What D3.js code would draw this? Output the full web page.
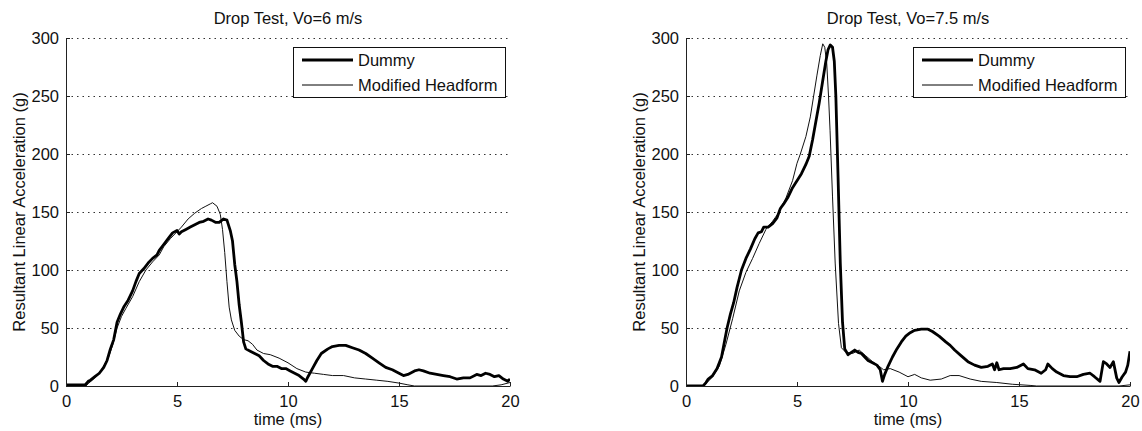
<!DOCTYPE html>
<html>
<head>
<meta charset="utf-8">
<script src="https://cdn.jsdelivr.net/npm/d3@7"></script>
<style>
  body { margin: 0; background: #fff; }
  text { font-family: "Liberation Sans", Arial, sans-serif; fill: #111; }
</style>
</head>
<body>
<div id="chart"></div>
<script>
// tick labels and titles
var xTicks = [0, 5, 10, 15, 20];
var yTicks = [0, 50, 100, 150, 200, 250, 300];
var seriesNames = ["Dummy", "Modified Headform"];
var titles = ["Drop Test, Vo=6 m/s", "Drop Test, Vo=7.5 m/s"];

// [time (ms), acceleration (g)], Vo = 6 m/s
var dummy6 = [[0,1],[0.86,1],[1.0,4],[1.1,5],[1.3,8],[1.5,11],[1.7,16],[1.85,22],[2.0,32],[2.15,40],
  [2.3,55],[2.45,62],[2.6,68],[2.8,74],[3.0,82],[3.15,90],[3.3,97],[3.5,101],[3.7,106],[3.9,110],
  [4.1,113],[4.2,117],[4.4,122],[4.6,127],[4.8,132],[5.0,134],[5.1,131],[5.2,133],[5.4,135],[5.6,137],
  [5.8,139],[6.0,141],[6.2,142],[6.4,144],[6.55,143],[6.75,141],[6.9,141],[7.1,144],[7.25,143],[7.4,134],
  [7.5,125],[7.6,105],[7.7,90],[7.8,70],[7.9,55],[8.0,38],[8.1,32],[8.3,30],[8.5,28],[8.7,26],
  [8.9,22],[9.1,19],[9.3,17],[9.5,17],[9.7,15],[9.9,15],[10.1,13],[10.3,11],[10.5,9],[10.7,6],
  [10.8,4],[10.9,8],[11.1,15],[11.3,22],[11.5,28],[11.8,32],[12.0,34],[12.3,35],[12.6,35],[12.9,33],
  [13.2,31],[13.5,28],[13.8,24],[14.1,20],[14.4,16],[14.7,14],[15.0,11],[15.2,9],[15.4,10],[15.7,13],
  [15.9,14],[16.1,13],[16.4,11],[16.7,10],[17.0,9],[17.3,8],[17.6,6],[17.9,7],[18.2,7],[18.5,10],
  [18.7,9],[18.9,11],[19.1,10],[19.3,8],[19.5,9],[19.7,6],[19.9,4],[20,6]];

var headform6 = [[0,0],[0.9,0],[1.0,2],[1.3,7],[1.6,14],[1.9,24],[2.1,35],[2.3,50],[2.5,60],[2.7,67],
  [3.0,77],[3.3,90],[3.6,100],[3.9,107],[4.2,113],[4.4,120],[4.7,127],[5.0,133],[5.2,137],[5.5,144],
  [5.8,149],[6.1,153],[6.3,155],[6.5,157],[6.6,158],[6.8,155],[6.95,148],[7.05,135],[7.15,115],[7.25,90],
  [7.35,68],[7.45,57],[7.6,48],[7.8,43],[8.0,40],[8.2,39],[8.4,36],[8.6,31],[8.9,28],[9.2,27],
  [9.6,24],[10.0,20],[10.4,15],[10.8,12],[11.2,11],[11.6,10],[12.0,9],[12.5,9],[13.0,7],[13.5,6],
  [14.0,5],[14.5,4],[15.0,2.5],[15.4,1],[15.7,0],[19.2,0],[19.6,1],[20,3]];

// Vo = 7.5 m/s
var dummy75 = [[0,0],[0.77,0],[0.9,3],[1.0,6],[1.2,9],[1.4,15],[1.6,25],[1.75,40],[1.85,50],[2.0,62],
  [2.15,72],[2.3,85],[2.5,100],[2.7,110],[2.9,118],[3.1,127],[3.25,132],[3.4,133],[3.5,137],[3.7,137],
  [3.9,140],[4.1,145],[4.25,153],[4.4,157],[4.6,163],[4.8,171],[5.0,177],[5.2,183],[5.4,191],[5.55,198],
  [5.7,212],[5.85,228],[6.0,244],[6.15,262],[6.3,280],[6.4,290],[6.5,294],[6.6,292],[6.68,280],[6.75,250],
  [6.85,180],[6.95,106],[7.05,55],[7.15,32],[7.3,27],[7.45,29],[7.6,31],[7.75,29],[7.9,28],[8.05,25],
  [8.2,22],[8.4,20],[8.6,18],[8.75,14],[8.85,4],[8.95,10],[9.1,17],[9.3,25],[9.5,32],[9.7,38],
  [9.9,43],[10.1,46],[10.3,48],[10.6,49],[10.9,49],[11.1,47],[11.4,43],[11.7,38],[11.9,35],[12.1,31],
  [12.4,26],[12.7,21],[13.0,18],[13.3,16],[13.6,17],[13.8,19],[13.9,14],[14.0,20],[14.1,14],[14.3,15],
  [14.6,15],[14.9,16],[15.2,19],[15.4,15],[15.7,14],[16.0,11],[16.2,14],[16.3,19],[16.5,15],[16.7,12],
  [17.0,9],[17.3,8],[17.6,8],[17.9,10],[18.2,11],[18.4,8],[18.65,4],[18.8,21],[18.95,19],[19.1,16],
  [19.25,21],[19.4,7],[19.5,3],[19.65,8],[19.8,12],[19.9,18],[20,30]];

var headform75 = [[0,0],[0.8,0],[0.95,3],[1.2,8],[1.5,17],[1.8,36],[2.1,58],[2.4,82],[2.7,98],[3.0,110],
  [3.3,123],[3.6,135],[3.9,142],[4.2,150],[4.5,162],[4.8,177],[5.0,192],[5.15,200],[5.4,215],[5.6,232],
  [5.75,250],[5.9,268],[6.05,285],[6.16,295],[6.25,292],[6.34,278],[6.42,250],[6.49,220],[6.6,163],[6.72,106],
  [6.87,54],[7.0,33],[7.2,29],[7.5,28],[7.8,31],[8.1,26],[8.4,21],[8.7,17],[8.9,14],[9.2,15],
  [9.6,12],[10.0,8],[10.3,10],[10.6,7],[11.0,5],[11.5,6],[11.9,9],[12.3,9],[12.8,6],[13.3,4],
  [14.0,3],[14.7,1.5],[15.5,0.5],[15.8,0],[19.5,0],[20,1]];

var W = 1142, H = 431;

var svg = d3.select("#chart").append("svg")
    .attr("width", W)
    .attr("height", H);

function drawPanel(left, title, dummy, headform, id) {
    var top = 38, bottom = 386, right = left + 444;

    var x = d3.scaleLinear().domain([0, 20]).range([left, right]);
    var y = d3.scaleLinear().domain([0, 300]).range([bottom, top]);

    var g = svg.append("g");

    g.append("clipPath").attr("id", "clip" + id)
      .append("rect")
        .attr("x", left).attr("y", top - 2)
        .attr("width", right - left).attr("height", bottom - top + 2);

    // dotted horizontal grid
    g.selectAll(".grid")
        .data(yTicks.filter(function(d) { return d > 0; }))
        .enter().append("line")
        .attr("x1", left).attr("x2", right)
        .attr("y1", function(d) { return y(d) + 0.5; })
        .attr("y2", function(d) { return y(d) + 0.5; })
        .attr("stroke", "#333")
        .attr("stroke-width", 1)
        .attr("stroke-dasharray", "1.5,4");

    var line = d3.line()
        .x(function(d) { return x(d[0]); })
        .y(function(d) { return y(d[1]); });

    g.append("path")
        .datum(headform)
        .attr("clip-path", "url(#clip" + id + ")")
        .attr("d", line)
        .attr("fill", "none")
        .attr("stroke", "#111")
        .attr("stroke-width", 1);

    g.append("path")
        .datum(dummy)
        .attr("clip-path", "url(#clip" + id + ")")
        .attr("d", line)
        .attr("fill", "none")
        .attr("stroke", "#000")
        .attr("stroke-width", 2.8)
        .attr("stroke-linejoin", "round");

    // axes, ticks pointing inward like matlab
    var xAxis = d3.axisBottom(x).tickValues(xTicks).tickSizeInner(-4).tickSizeOuter(0).tickPadding(9);
    var yAxis = d3.axisLeft(y).tickValues(yTicks).tickSizeInner(-4).tickSizeOuter(0).tickPadding(7);

    var gx = g.append("g").attr("transform", "translate(0," + bottom + ")").call(xAxis);
    var gy = g.append("g").attr("transform", "translate(" + left + ",0)").call(yAxis);

    [gx, gy].forEach(function(a) {
        a.select(".domain").attr("stroke", "#222");
        a.selectAll(".tick line").attr("stroke", "#222");
        a.selectAll(".tick text")
            .style("font-family", '"Liberation Sans", Arial, sans-serif')
            .style("font-size", "16.5px")
            .attr("fill", "#111");
    });

    g.append("text")
        .attr("x", (left + right) / 2)
        .attr("y", 24)
        .attr("text-anchor", "middle")
        .style("font-size", "16.5px")
        .text(title);

    g.append("text")
        .attr("x", (left + right) / 2)
        .attr("y", 425)
        .attr("text-anchor", "middle")
        .style("font-size", "16.5px")
        .text("time (ms)");

    g.append("text")
        .attr("transform", "translate(" + (left - 41) + "," + ((top + bottom) / 2) + ") rotate(-90)")
        .attr("text-anchor", "middle")
        .style("font-size", "16.5px")
        .text("Resultant Linear Acceleration (g)");

    // legend
    var lx = right - 217, ly = 47;
    var leg = g.append("g");
    leg.append("rect")
        .attr("x", lx + 0.5).attr("y", ly + 0.5)
        .attr("width", 212).attr("height", 50)
        .attr("fill", "#fff")
        .attr("stroke", "#111");

    var widths = [2.8, 1];
    seriesNames.forEach(function(name, i) {
        var yy = ly + 13 + i * 25;
        leg.append("line")
            .attr("x1", lx + 9).attr("x2", lx + 60)
            .attr("y1", yy).attr("y2", yy)
            .attr("stroke", "#000")
            .attr("stroke-width", widths[i]);
        leg.append("text")
            .attr("x", lx + 65)
            .attr("y", yy + 6)
            .style("font-size", "16.5px")
            .text(name);
    });
}

drawPanel(66, titles[0], dummy6, headform6, 0);
drawPanel(686, titles[1], dummy75, headform75, 1);
</script>
</body>
</html>
